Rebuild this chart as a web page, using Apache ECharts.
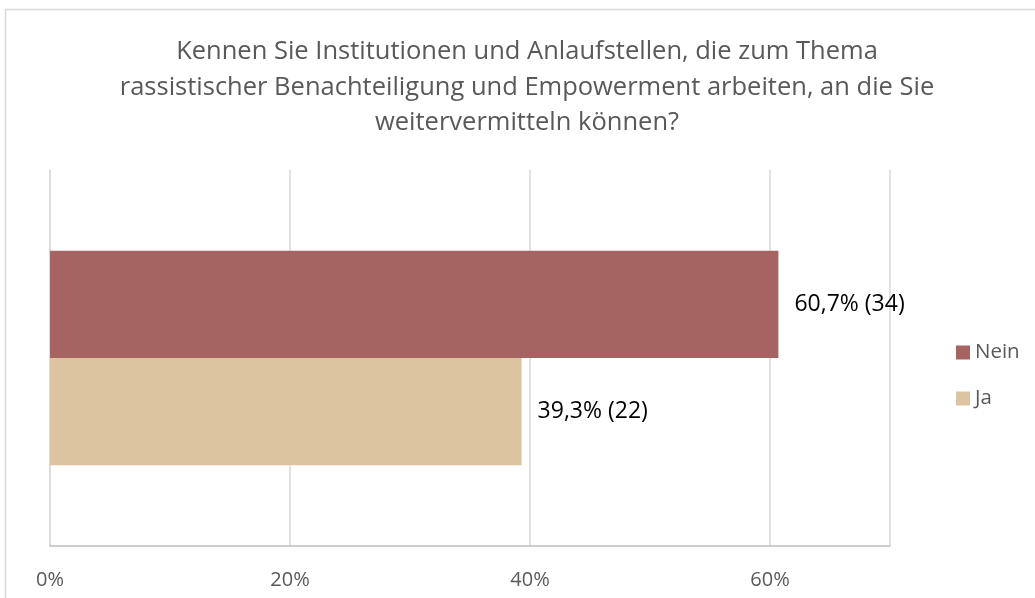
<!DOCTYPE html>
<html>
<head>
<meta charset="utf-8">
<script src="https://cdn.jsdelivr.net/npm/echarts@6/dist/echarts.min.js"></script>
<style>
  html, body { margin: 0; padding: 0; background: #fff; }
  #chart { width: 1035px; height: 598px; }
</style>
</head>
<body>
<div id="chart"></div>
<script>
// data
const categories = ['Institutionen']
const seriesNames = ['Nein', 'Ja']
const percentValues = [60.7, 39.3]
const countValues = [34, 22]
const xTicks = [0, 20, 40, 60]

const colors = { Nein: '#a56361', Ja: '#ddc4a0' }
const chart = echarts.init(document.getElementById('chart'))

const series = seriesNames.map((name, i) => ({
  name: name,
  type: 'bar',
  barGap: '0%',
  barCategoryGap: '43%',
  itemStyle: { color: colors[name] },
  label: {
    show: true,
    position: 'right',
    distance: 16,
    color: '#000',
    fontSize: 23,
    fontFamily: 'Open Sans',
    formatter: () => percentValues[i].toFixed(1).replace('.', ',') + '% (' + countValues[i] + ')'
  },
  data: [percentValues[i]]
}))

chart.setOption({
  animation: false,
  textStyle: { fontFamily: 'Open Sans' },
  title: {
    text: 'Kennen Sie Institutionen und Anlaufstellen, die zum Thema\nrassistischer Benachteiligung und Empowerment arbeiten, an die Sie\nweitervermitteln können?',
    left: 522,
    top: 29,
    textAlign: 'center',
    textStyle: {
      color: '#595959',
      fontSize: 25.5,
      fontWeight: 'normal',
      lineHeight: 35.5,
      fontFamily: 'Open Sans'
    }
  },
  graphic: [{
    type: 'rect',
    shape: { x: 5.5, y: 9.5, width: 1040, height: 600 },
    style: { fill: 'none', stroke: '#d9d9d9', lineWidth: 1.5 },
    silent: true
  }],
  legend: {
    data: seriesNames,
    orient: 'vertical',
    left: 951,
    top: 337,
    itemWidth: 14,
    itemHeight: 14,
    itemGap: 25,
    icon: 'rect',
    textStyle: { color: '#595959', fontSize: 20.5, fontFamily: 'Open Sans' }
  },
  grid: { left: 50, right: 145, top: 170, bottom: 52, containLabel: false },
  xAxis: {
    type: 'value',
    min: 0,
    max: 70,
    interval: 20,
    axisLine: { show: true, lineStyle: { color: '#bfbfbf', width: 1.5 } },
    axisTick: { show: false },
    splitLine: { lineStyle: { color: '#d9d9d9', width: 1.5 } },
    axisLabel: {
      color: '#595959',
      fontSize: 20,
      margin: 24,
      formatter: v => (xTicks.indexOf(v) >= 0 ? v + '%' : '')
    }
  },
  yAxis: {
    type: 'category',
    data: categories,
    axisLine: { show: true, lineStyle: { color: '#d9d9d9', width: 1.5 } },
    axisTick: { show: false },
    axisLabel: { show: false }
  },
  series: series
})
</script>
</body>
</html>
